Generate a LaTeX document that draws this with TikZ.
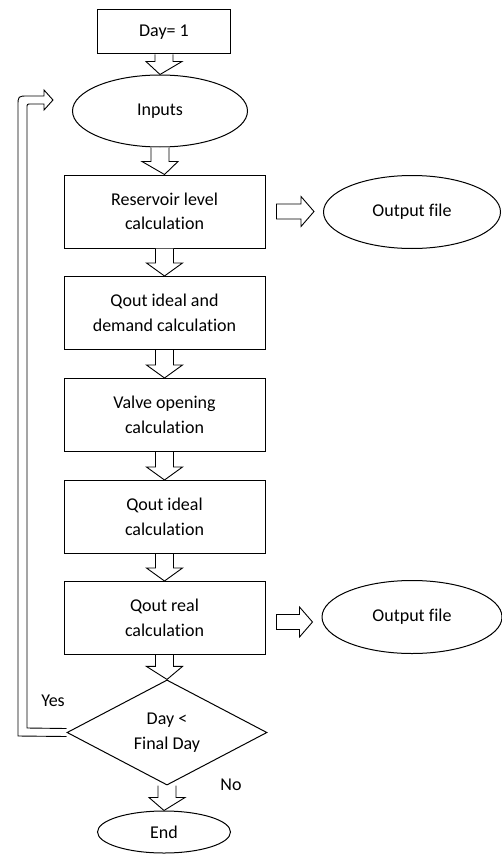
\documentclass[tikz,border=0pt]{standalone}
\usepackage{fontspec}
\setmainfont[Ligatures=NoCommon]{Carlito}
\usetikzlibrary{shapes.geometric,calc}
\tikzset{
  txt/.style={font=\fontsize{18}{24.5}\selectfont},
  box/.style={draw, line width=1pt, minimum width=201pt, minimum height=73pt, inner sep=0pt, align=center, txt},
  ell/.style={draw, line width=1pt, ellipse, inner sep=0pt, align=center, txt},
  dec/.style={draw, line width=1pt, diamond, inner sep=0pt, minimum width=200pt, minimum height=99pt, align=center, txt},
  lbl/.style={txt},
  arr/.style={line width=0.9pt, fill=white, line join=miter}
}
\newcommand{\vbarrow}[2]{%
  \draw[arr] let \p1=(#1.south), \p2=(#2.north) in
    (\x1-9pt,\y1) -- (\x1-9pt,\y2+13pt) -- (\x1-18pt,\y2+13pt) -- (\x2,\y2)
    -- (\x1+18pt,\y2+13pt) -- (\x1+9pt,\y2+13pt) -- (\x1+9pt,\y1);}
\begin{document}
\begin{tikzpicture}[x=1pt,y=-1pt]
\useasboundingbox (0,0) rectangle (502,856);
\node[box, minimum width=133pt, minimum height=44pt] (day) at (164,32) {Day= 1};
\node[ell, minimum width=175pt, minimum height=72pt] (inp) at (160,111) {Inputs};
\node[box] (res) at (164.5,211.5) {Reservoir level\\calculation};
\node[box] (qid) at (164.5,313) {Qout ideal and\\demand calculation};
\node[box] (valve) at (164.5,415) {Valve opening\\calculation};
\node[box] (qi) at (164.5,517) {Qout ideal\\calculation};
\node[box] (qr) at (164.5,618) {Qout real\\calculation};
\node[dec] (dec) at (167,732.5) {Day \textless\\Final Day};
\node[ell, minimum width=133pt, minimum height=42pt] (end) at (164,832) {End};
\node[ell, minimum width=177pt, minimum height=73pt] (out1) at (412,212) {Output file};
\node[ell, minimum width=180pt, minimum height=73pt] (out2) at (412,617) {Output file};
\node[lbl] (yes) at (53,701) {Yes};
\node[lbl] (no) at (231,785) {No};

\vbarrow{day}{inp}
\vbarrow{inp}{res}
\vbarrow{res}{qid}
\vbarrow{qid}{valve}
\vbarrow{valve}{qi}
\vbarrow{qi}{qr}
\vbarrow{qr}{dec}
\vbarrow{dec}{end}

\draw[arr] let \p1=(res.east), \p2=(out1.west) in
  (\x1+11pt,\y1+7.5pt) -- (\x2-22pt,\y1+7.5pt) -- (\x2-22pt,\y1+15pt) -- (\x2-9pt,\y1)
  -- (\x2-22pt,\y1-15pt) -- (\x2-22pt,\y1-7.5pt) -- (\x1+11pt,\y1-7.5pt) -- cycle;
\draw[arr] let \p1=(qr.east), \p2=(out2.west) in
  (\x1+11pt,\y1-4pt+7.5pt) -- (\x2-22pt,\y1-4pt+7.5pt) -- (\x2-22pt,\y1-4pt+15pt) -- (\x2-9pt,\y1-4pt)
  -- (\x2-22pt,\y1-4pt-15pt) -- (\x2-22pt,\y1-4pt-7.5pt) -- (\x1+11pt,\y1-4pt-7.5pt) -- cycle;

\coordinate (tip) at (53,100);
\draw[arr, fill=none] ($(dec.west)+(0,4)$) -- (18,736) -- (18,106) .. controls (18,96) .. (28,96)
  -- ($(tip)+(-9,-4)$) -- ($(tip)+(-9,-10)$) -- (tip) -- ($(tip)+(-9,10)$) -- ($(tip)+(-9,4)$)
  -- (31,104) .. controls (27,104) .. (27,108) -- (27,728) -- ($(dec.west)+(0,-4)$);
\end{tikzpicture}
\end{document}
